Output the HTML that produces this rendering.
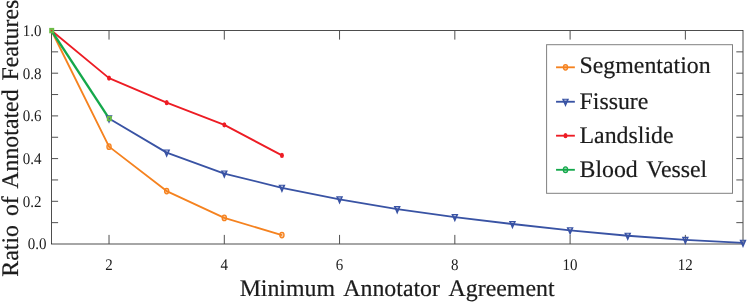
<!DOCTYPE html>
<html><head><meta charset="utf-8"><title>chart</title>
<style>
html,body{margin:0;padding:0;background:#fff;}
body{width:747px;height:303px;overflow:hidden;}
svg{display:block;will-change:transform;}
text{font-family:"Liberation Serif",serif;fill:#1c1c1c;stroke:#1c1c1c;stroke-width:0.2px;text-rendering:geometricPrecision;}
.t{font-size:15px;stroke-width:0;}
.l{font-size:23.85px;}
.g{font-size:23.85px;}
</style></head><body>
<svg width="747" height="303" viewBox="0 0 747 303">
<rect width="747" height="303" fill="#fff"/>

<g stroke="#222222" stroke-width="0.8" fill="none">
<rect x="51.40" y="30.50" width="691.60" height="213.50"/>
</g>
<g stroke="#505050" stroke-width="1" fill="none">
<path d="M109.03 244.00v-9.1M109.03 30.50v9.1"/>
<path d="M224.30 244.00v-9.1M224.30 30.50v9.1"/>
<path d="M339.56 244.00v-9.1M339.56 30.50v9.1"/>
<path d="M454.83 244.00v-9.1M454.83 30.50v9.1"/>
<path d="M570.10 244.00v-9.1M570.10 30.50v9.1"/>
<path d="M685.36 244.00v-9.1M685.36 30.50v9.1"/>
<path d="M51.40 222.65h6.7M743.00 222.65h-6.7"/>
<path d="M51.40 201.30h6.7M743.00 201.30h-6.7"/>
<path d="M51.40 179.95h6.7M743.00 179.95h-6.7"/>
<path d="M51.40 158.60h6.7M743.00 158.60h-6.7"/>
<path d="M51.40 137.25h6.7M743.00 137.25h-6.7"/>
<path d="M51.40 115.90h6.7M743.00 115.90h-6.7"/>
<path d="M51.40 94.55h6.7M743.00 94.55h-6.7"/>
<path d="M51.40 73.20h6.7M743.00 73.20h-6.7"/>
<path d="M51.40 51.85h6.7M743.00 51.85h-6.7"/>
</g>
<text class="t" transform="translate(109.03 270.1) scale(1 1.08)" text-anchor="middle">2</text>
<text class="t" transform="translate(224.30 270.1) scale(1 1.08)" text-anchor="middle">4</text>
<text class="t" transform="translate(339.56 270.1) scale(1 1.08)" text-anchor="middle">6</text>
<text class="t" transform="translate(454.83 270.1) scale(1 1.08)" text-anchor="middle">8</text>
<text class="t" transform="translate(570.10 270.1) scale(1 1.08)" text-anchor="middle">10</text>
<text class="t" transform="translate(685.36 270.1) scale(1 1.08)" text-anchor="middle">12</text>
<text class="t" transform="translate(46.4 249.00) scale(1 1.08)" text-anchor="end">0.0</text>
<text class="t" transform="translate(41.6 206.60) scale(1 1.08)" text-anchor="end">0.2</text>
<text class="t" transform="translate(41.6 163.90) scale(1 1.08)" text-anchor="end">0.4</text>
<text class="t" transform="translate(41.6 121.20) scale(1 1.08)" text-anchor="end">0.6</text>
<text class="t" transform="translate(41.6 78.50) scale(1 1.08)" text-anchor="end">0.8</text>
<text class="t" transform="translate(41.6 35.80) scale(1 1.08)" text-anchor="end">1.0</text>
<path d="M51.40 30.50L109.03 146.64L166.67 191.05L224.30 217.95L281.93 235.03" fill="none" stroke="#F5821F" stroke-width="1.85" stroke-linejoin="round"/>
<path d="M109.03 118.46L166.67 152.62L224.30 173.55L281.93 187.85L339.56 199.38L397.20 209.20L454.83 217.10L512.46 224.04L570.10 230.34L627.73 235.78L685.36 239.90L743.00 242.83" fill="none" stroke="#3953A4" stroke-width="1.85" stroke-linejoin="round"/>
<path d="M51.40 30.50L109.03 78.11L166.67 102.66L224.30 124.87L281.93 155.40" fill="none" stroke="#ED1C24" stroke-width="1.85" stroke-linejoin="round"/>
<path d="M51.40 30.50L109.03 118.46" fill="none" stroke="#14A84B" stroke-width="2.3" stroke-linejoin="round"/>
<ellipse cx="109.03" cy="146.64" rx="2.1" ry="2.75" fill="#F5821F" fill-opacity="0.4" stroke="#F5821F" stroke-width="1.3"/>
<ellipse cx="166.67" cy="191.05" rx="2.1" ry="2.75" fill="#F5821F" fill-opacity="0.4" stroke="#F5821F" stroke-width="1.3"/>
<ellipse cx="224.30" cy="217.95" rx="2.1" ry="2.75" fill="#F5821F" fill-opacity="0.4" stroke="#F5821F" stroke-width="1.3"/>
<ellipse cx="281.93" cy="235.03" rx="2.1" ry="2.75" fill="#F5821F" fill-opacity="0.4" stroke="#F5821F" stroke-width="1.3"/>
<path fill-rule="evenodd" fill="#3953A4" d="M105.48 115.36h7.1L109.03 123.66zM107.73 116.46h2.6L109.03 119.26z"/><path fill="#3953A4" fill-opacity="0.4" d="M107.73 116.46h2.6L109.03 119.26z"/>
<path fill-rule="evenodd" fill="#3953A4" d="M163.12 149.52h7.1L166.67 157.82zM165.37 150.62h2.6L166.67 153.42z"/><path fill="#3953A4" fill-opacity="0.4" d="M165.37 150.62h2.6L166.67 153.42z"/>
<path fill-rule="evenodd" fill="#3953A4" d="M220.75 170.45h7.1L224.30 178.75zM223.00 171.55h2.6L224.30 174.35z"/><path fill="#3953A4" fill-opacity="0.4" d="M223.00 171.55h2.6L224.30 174.35z"/>
<path fill-rule="evenodd" fill="#3953A4" d="M278.38 184.75h7.1L281.93 193.05zM280.63 185.85h2.6L281.93 188.65z"/><path fill="#3953A4" fill-opacity="0.4" d="M280.63 185.85h2.6L281.93 188.65z"/>
<path fill-rule="evenodd" fill="#3953A4" d="M336.01 196.28h7.1L339.56 204.58zM338.26 197.38h2.6L339.56 200.18z"/><path fill="#3953A4" fill-opacity="0.4" d="M338.26 197.38h2.6L339.56 200.18z"/>
<path fill-rule="evenodd" fill="#3953A4" d="M393.65 206.10h7.1L397.20 214.40zM395.90 207.20h2.6L397.20 210.00z"/><path fill="#3953A4" fill-opacity="0.4" d="M395.90 207.20h2.6L397.20 210.00z"/>
<path fill-rule="evenodd" fill="#3953A4" d="M451.28 214.00h7.1L454.83 222.30zM453.53 215.10h2.6L454.83 217.90z"/><path fill="#3953A4" fill-opacity="0.4" d="M453.53 215.10h2.6L454.83 217.90z"/>
<path fill-rule="evenodd" fill="#3953A4" d="M508.91 220.94h7.1L512.46 229.24zM511.16 222.04h2.6L512.46 224.84z"/><path fill="#3953A4" fill-opacity="0.4" d="M511.16 222.04h2.6L512.46 224.84z"/>
<path fill-rule="evenodd" fill="#3953A4" d="M566.55 227.24h7.1L570.10 235.54zM568.80 228.34h2.6L570.10 231.14z"/><path fill="#3953A4" fill-opacity="0.4" d="M568.80 228.34h2.6L570.10 231.14z"/>
<path fill-rule="evenodd" fill="#3953A4" d="M624.18 232.68h7.1L627.73 240.98zM626.43 233.78h2.6L627.73 236.58z"/><path fill="#3953A4" fill-opacity="0.4" d="M626.43 233.78h2.6L627.73 236.58z"/>
<path fill-rule="evenodd" fill="#3953A4" d="M681.81 236.80h7.1L685.36 245.10zM684.06 237.90h2.6L685.36 240.70z"/><path fill="#3953A4" fill-opacity="0.4" d="M684.06 237.90h2.6L685.36 240.70z"/>
<path fill-rule="evenodd" fill="#3953A4" d="M739.45 239.73h7.1L743.00 248.03zM741.70 240.83h2.6L743.00 243.63z"/><path fill="#3953A4" fill-opacity="0.4" d="M741.70 240.83h2.6L743.00 243.63z"/>
<circle cx="51.40" cy="30.50" r="1.2" fill="#ED1C24"/>
<ellipse cx="109.03" cy="78.11" rx="2.0" ry="2.65" fill="#ED1C24"/>
<ellipse cx="166.67" cy="102.66" rx="2.0" ry="2.65" fill="#ED1C24"/>
<ellipse cx="224.30" cy="124.87" rx="2.0" ry="2.65" fill="#ED1C24"/>
<ellipse cx="281.93" cy="155.40" rx="2.0" ry="2.65" fill="#ED1C24"/>
<rect x="50.15" y="28.85" width="3.1" height="3.5" fill="none" stroke="#6ABD45" stroke-width="1.9"/>
<rect x="107.78" y="116.81" width="3.1" height="3.5" fill="none" stroke="#6ABD45" stroke-width="1.9"/>
<rect x="546.6" y="44.7" width="185.9" height="148.6" fill="#fff" stroke="#808080" stroke-width="1"/>
<path d="M556.05 67.3h18.8" stroke="#F5821F" stroke-width="1.85" fill="none"/>
<ellipse cx="565.50" cy="67.30" rx="2.1" ry="2.75" fill="#F5821F" fill-opacity="0.4" stroke="#F5821F" stroke-width="1.3"/>
<text class="g" x="579.5" y="73.1">Segmentation</text>
<path d="M556.05 101.75h18.8" stroke="#3953A4" stroke-width="1.85" fill="none"/>
<path fill-rule="evenodd" fill="#3953A4" d="M561.95 98.65h7.1L565.50 106.95zM564.20 99.75h2.6L565.50 102.55z"/><path fill="#3953A4" fill-opacity="0.4" d="M564.20 99.75h2.6L565.50 102.55z"/>
<text class="g" x="579.5" y="108.9">Fissure</text>
<path d="M556.05 135.7h18.8" stroke="#ED1C24" stroke-width="1.85" fill="none"/>
<ellipse cx="565.50" cy="135.70" rx="2.0" ry="2.65" fill="#ED1C24"/>
<text class="g" x="579.5" y="142.7">Landslide</text>
<path d="M556.05 169.8h18.8" stroke="#14A84B" stroke-width="1.85" fill="none"/>
<ellipse cx="565.50" cy="169.80" rx="2.15" ry="2.9" fill="#14A84B" fill-opacity="0.4" stroke="#14A84B" stroke-width="1.3"/>
<text class="g" x="579.5" y="176.6" word-spacing="3">Blood Vessel</text>
<text class="l" x="397.1" y="296.1" text-anchor="middle" word-spacing="2.3">Minimum <tspan dx="1.3">Annotator</tspan> <tspan dx="1.7">Agreement</tspan></text>
<text class="l" transform="translate(17.8 138.2) rotate(-90)" text-anchor="middle" word-spacing="2.9">Ratio of Annotated Features</text>
</svg></body></html>
